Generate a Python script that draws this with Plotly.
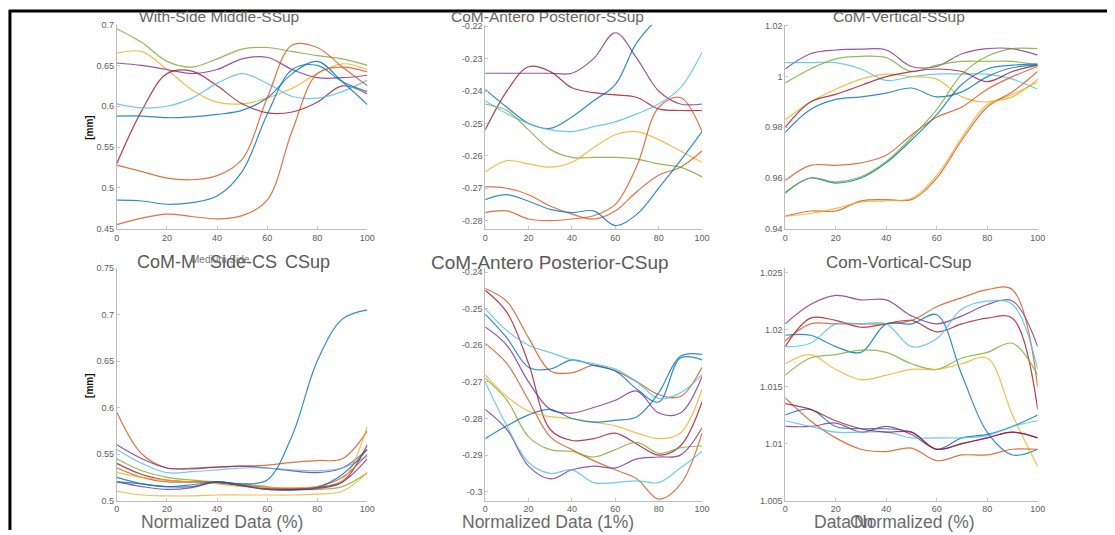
import plotly.graph_objects as go
from plotly.subplots import make_subplots

# ---------------- data ----------------
X_PCT = [0, 10, 20, 30, 40, 50, 60, 70, 80, 90, 100]

# With-Side Middle-SSup
ws_green = [0.695, 0.678, 0.655, 0.648, 0.658, 0.670, 0.672, 0.667, 0.662, 0.658, 0.650]
ws_yellow = [0.665, 0.667, 0.645, 0.620, 0.605, 0.603, 0.610, 0.622, 0.640, 0.652, 0.645]
ws_purple = [0.653, 0.650, 0.645, 0.640, 0.645, 0.658, 0.660, 0.645, 0.635, 0.635, 0.638]
ws_darkred = [0.530, 0.595, 0.640, 0.643, 0.625, 0.603, 0.592, 0.593, 0.605, 0.625, 0.615]
ws_lightblue = [0.603, 0.598, 0.600, 0.610, 0.628, 0.640, 0.628, 0.612, 0.610, 0.618, 0.632]
ws_blue1 = [0.588, 0.588, 0.586, 0.587, 0.590, 0.595, 0.610, 0.640, 0.655, 0.630, 0.602]
ws_blue2 = [0.485, 0.484, 0.480, 0.482, 0.490, 0.520, 0.590, 0.645, 0.650, 0.630, 0.618]
ws_orange1 = [0.528, 0.520, 0.512, 0.510, 0.515, 0.535, 0.610, 0.675, 0.672, 0.648, 0.625]
ws_orange2 = [0.455, 0.463, 0.468, 0.465, 0.462, 0.466, 0.485, 0.570, 0.640, 0.648, 0.642]

# CoM-Antero Posterior-SSup
aps_purple = [-0.2345, -0.2345, -0.2345, -0.2345, -0.2345, -0.2300, -0.2220, -0.2300, -0.2400, -0.2440, -0.2440]
aps_darkred = [-0.2520, -0.2400, -0.2325, -0.2340, -0.2390, -0.2405, -0.2412, -0.2420, -0.2455, -0.2460, -0.2460]
aps_blue1 = [-0.2395, -0.2450, -0.2500, -0.2515, -0.2480, -0.2430, -0.2380, -0.2250, -0.2180, -0.2170, -0.2192]
aps_lightblue = [-0.2430, -0.2470, -0.2500, -0.2520, -0.2525, -0.2510, -0.2495, -0.2470, -0.2440, -0.2390, -0.2280]
aps_green = [-0.2440, -0.2460, -0.2520, -0.2580, -0.2605, -0.2605, -0.2605, -0.2610, -0.2625, -0.2635, -0.2665]
aps_yellow = [-0.2650, -0.2615, -0.2625, -0.2635, -0.2620, -0.2575, -0.2535, -0.2525, -0.2550, -0.2585, -0.2620]
aps_orange1 = [-0.2775, -0.2770, -0.2795, -0.2800, -0.2795, -0.2785, -0.2750, -0.2630, -0.2450, -0.2420, -0.2525]
aps_orange2 = [-0.2695, -0.2700, -0.2720, -0.2755, -0.2780, -0.2795, -0.2770, -0.2710, -0.2660, -0.2635, -0.2585]
aps_blue2 = [-0.2735, -0.2720, -0.2740, -0.2765, -0.2775, -0.2770, -0.2815, -0.2780, -0.2700, -0.2615, -0.2525]

# CoM-Vertical-SSup
vs_purple = [1.0030, 1.0090, 1.0105, 1.0108, 1.0105, 1.0040, 1.0040, 1.0090, 1.0110, 1.0110, 1.0085]
vs_lightblue = [1.0055, 1.0055, 1.0055, 1.0030, 0.9985, 1.0000, 1.0010, 1.0010, 1.0010, 0.9990, 0.9950]
vs_green = [0.9975, 1.0030, 1.0070, 1.0080, 1.0075, 1.0020, 1.0045, 1.0060, 1.0060, 1.0060, 1.0045]
vs_yellow = [0.9830, 0.9900, 0.9950, 0.9990, 1.0010, 1.0000, 0.9990, 0.9920, 0.9900, 0.9930, 0.9980]
vs_darkred = [0.9800, 0.9900, 0.9930, 0.9965, 1.0000, 1.0020, 1.0030, 1.0020, 0.9980, 1.0020, 1.0045]
vs_blue1 = [0.9780, 0.9870, 0.9910, 0.9920, 0.9935, 0.9955, 0.9920, 0.9940, 1.0000, 1.0035, 1.0045]
vs_orange1 = [0.9590, 0.9650, 0.9650, 0.9660, 0.9690, 0.9770, 0.9840, 0.9880, 0.9950, 1.0000, 1.0040]
vs_blue2 = [0.9540, 0.9600, 0.9580, 0.9600, 0.9660, 0.9750, 0.9850, 0.9970, 1.0030, 1.0045, 1.0050]
vs_green2 = [0.9545, 0.9600, 0.9585, 0.9605, 0.9665, 0.9760, 0.9870, 1.0010, 1.0080, 1.0110, 1.0110]
vs_orange2 = [0.9450, 0.9470, 0.9470, 0.9510, 0.9515, 0.9515, 0.9600, 0.9750, 0.9880, 0.9940, 1.0020]
vs_yellow2 = [0.9450, 0.9460, 0.9480, 0.9505, 0.9510, 0.9520, 0.9610, 0.9760, 0.9890, 0.9920, 0.9990]

# CoM-Medium Side-CSup
mc_blue = [0.520, 0.518, 0.515, 0.517, 0.520, 0.518, 0.522, 0.570, 0.650, 0.695, 0.705]
mc_orange = [0.595, 0.550, 0.535, 0.535, 0.536, 0.537, 0.538, 0.541, 0.543, 0.545, 0.575]
mc_purple = [0.560, 0.545, 0.535, 0.534, 0.536, 0.537, 0.535, 0.532, 0.530, 0.535, 0.555]
mc_lightblue = [0.555, 0.540, 0.530, 0.531, 0.533, 0.535, 0.535, 0.533, 0.532, 0.535, 0.548]
mc_green = [0.545, 0.532, 0.525, 0.522, 0.520, 0.518, 0.515, 0.512, 0.512, 0.515, 0.530]
mc_darkred = [0.540, 0.528, 0.522, 0.520, 0.519, 0.516, 0.513, 0.512, 0.513, 0.520, 0.560]
mc_orange2 = [0.535, 0.525, 0.520, 0.520, 0.520, 0.517, 0.514, 0.513, 0.515, 0.525, 0.550]
mc_yellow = [0.530, 0.525, 0.522, 0.520, 0.518, 0.515, 0.514, 0.514, 0.515, 0.522, 0.580]
mc_blue2 = [0.525, 0.518, 0.515, 0.515, 0.520, 0.516, 0.512, 0.511, 0.514, 0.528, 0.555]
mc_purple2 = [0.520, 0.515, 0.512, 0.514, 0.520, 0.516, 0.512, 0.512, 0.514, 0.520, 0.545]
mc_yellow2 = [0.510, 0.506, 0.505, 0.505, 0.506, 0.506, 0.506, 0.506, 0.507, 0.510, 0.530]

# CoM-Antero Posterior-CSup
apc_orange = [-0.2445, -0.2480, -0.2580, -0.2670, -0.2675, -0.2655, -0.2670, -0.2700, -0.2735, -0.2740, -0.2660]
apc_darkred = [-0.2450, -0.2510, -0.2650, -0.2830, -0.2860, -0.2855, -0.2840, -0.2870, -0.2900, -0.2875, -0.2755]
apc_blue = [-0.2515, -0.2580, -0.2660, -0.2665, -0.2640, -0.2655, -0.2670, -0.2720, -0.2755, -0.2635, -0.2640]
apc_lightblue = [-0.2500, -0.2560, -0.2600, -0.2620, -0.2640, -0.2650, -0.2665, -0.2700, -0.2745, -0.2730, -0.2680]
apc_purple = [-0.2550, -0.2600, -0.2700, -0.2775, -0.2785, -0.2770, -0.2750, -0.2725, -0.2785, -0.2785, -0.2685]
apc_orange2 = [-0.2595, -0.2650, -0.2750, -0.2850, -0.2885, -0.2915, -0.2940, -0.2965, -0.3020, -0.2980, -0.2840]
apc_yellow = [-0.2680, -0.2740, -0.2780, -0.2795, -0.2800, -0.2810, -0.2820, -0.2840, -0.2855, -0.2840, -0.2720]
apc_green = [-0.2690, -0.2750, -0.2850, -0.2885, -0.2890, -0.2905, -0.2885, -0.2865, -0.2895, -0.2880, -0.2875]
apc_blue2 = [-0.2855, -0.2820, -0.2790, -0.2775, -0.2800, -0.2810, -0.2805, -0.2795, -0.2730, -0.2630, -0.2625]
apc_purple2 = [-0.2775, -0.2830, -0.2930, -0.2965, -0.2940, -0.2930, -0.2935, -0.2910, -0.2905, -0.2900, -0.2825]
apc_lightblue2 = [-0.2700, -0.2820, -0.2920, -0.2950, -0.2940, -0.2975, -0.2975, -0.2970, -0.2975, -0.2935, -0.2890]

# Com-Vortical-CSup
vc_purple = [1.0205, 1.0222, 1.0230, 1.0226, 1.0226, 1.0212, 1.0205, 1.0212, 1.0222, 1.0225, 1.0185]
vc_darkred = [1.0185, 1.0210, 1.0208, 1.0202, 1.0205, 1.0208, 1.0198, 1.0205, 1.0210, 1.0210, 1.0130]
vc_orange = [1.0190, 1.0205, 1.0205, 1.0205, 1.0205, 1.0208, 1.0220, 1.0228, 1.0235, 1.0235, 1.0150]
vc_blue = [1.0195, 1.0195, 1.0185, 1.0180, 1.0205, 1.0205, 1.0213, 1.0160, 1.0110, 1.0090, 1.0095]
vc_lightblue = [1.0185, 1.0188, 1.0205, 1.0205, 1.0205, 1.0185, 1.0192, 1.0218, 1.0225, 1.0222, 1.0165]
vc_green = [1.0160, 1.0175, 1.0178, 1.0182, 1.0180, 1.0170, 1.0165, 1.0175, 1.0180, 1.0188, 1.0160]
vc_yellow = [1.0170, 1.0178, 1.0165, 1.0156, 1.0160, 1.0165, 1.0165, 1.0170, 1.0175, 1.0125, 1.0080]
vc_orange2 = [1.0140, 1.0120, 1.0105, 1.0095, 1.0093, 1.0096, 1.0085, 1.0090, 1.0090, 1.0095, 1.0095]
vc_blue2 = [1.0125, 1.0130, 1.0115, 1.0113, 1.0113, 1.0110, 1.0095, 1.0105, 1.0108, 1.0115, 1.0125]
vc_purple2 = [1.0115, 1.0115, 1.0118, 1.0110, 1.0115, 1.0108, 1.0095, 1.0100, 1.0105, 1.0110, 1.0105]
vc_lightblue2 = [1.0120, 1.0115, 1.0110, 1.0110, 1.0110, 1.0105, 1.0105, 1.0105, 1.0107, 1.0115, 1.0120]
vc_darkred2 = [1.0135, 1.0130, 1.0120, 1.0113, 1.0110, 1.0110, 1.0095, 1.0100, 1.0105, 1.0110, 1.0105]

# tick labels
x_ticks = [0, 20, 40, 60, 80, 100]
y_ticks_ws = [0.45, 0.5, 0.55, 0.6, 0.65, 0.7]
y_text_ws = ["0.45", "0.5", "0.55", "0.6", "0.65", "0.7"]
y_ticks_aps = [-0.28, -0.27, -0.26, -0.25, -0.24, -0.23, -0.22]
y_text_aps = ["-0.28", "-0.27", "-0.26", "-0.25", "-0.24", "-0.23", "-0.22"]
y_ticks_vs = [0.94, 0.96, 0.98, 1.0, 1.02]
y_text_vs = ["0.94", "0.96", "0.98", "1", "1.02"]
y_ticks_mc = [0.5, 0.55, 0.6, 0.65, 0.7, 0.75]
y_text_mc = ["0.5", "0.55", "0.6", "0.65", "0.7", "0.75"]
y_ticks_apc = [-0.3, -0.29, -0.28, -0.27, -0.26, -0.25, -0.24]
y_text_apc = ["-0.3", "-0.29", "-0.28", "-0.27", "-0.26", "-0.25", "-0.24"]
y_ticks_vc = [1.005, 1.01, 1.015, 1.02, 1.025]
y_text_vc = ["1.005", "1.01", "1.015", "1.02", "1.025"]

# ---------------- styling ----------------
B, O, Y, P, G, LB, R = "#0072BD", "#D95319", "#EDB120", "#7E2F8E", "#77AC30", "#4DBEEE", "#A2142F"

panels = [
    (1, 1, [(ws_green, G), (ws_yellow, Y), (ws_purple, P), (ws_darkred, R), (ws_lightblue, LB),
            (ws_blue1, B), (ws_blue2, B), (ws_orange1, O), (ws_orange2, O)]),
    (1, 2, [(aps_purple, P), (aps_darkred, R), (aps_blue1, B), (aps_lightblue, LB), (aps_green, G),
            (aps_yellow, Y), (aps_orange1, O), (aps_orange2, O), (aps_blue2, B)]),
    (1, 3, [(vs_purple, P), (vs_lightblue, LB), (vs_green, G), (vs_yellow, Y), (vs_darkred, R),
            (vs_blue1, B), (vs_orange1, O), (vs_blue2, B), (vs_green2, G), (vs_orange2, O), (vs_yellow2, Y)]),
    (2, 1, [(mc_orange, O), (mc_purple, P), (mc_lightblue, LB), (mc_green, G), (mc_darkred, R),
            (mc_orange2, O), (mc_yellow, Y), (mc_blue2, B), (mc_purple2, P), (mc_yellow2, Y), (mc_blue, B)]),
    (2, 2, [(apc_orange, O), (apc_darkred, R), (apc_blue, B), (apc_lightblue, LB), (apc_purple, P),
            (apc_orange2, O), (apc_yellow, Y), (apc_green, G), (apc_blue2, B), (apc_purple2, P),
            (apc_lightblue2, LB)]),
    (2, 3, [(vc_purple, P), (vc_darkred, R), (vc_orange, O), (vc_blue, B), (vc_lightblue, LB),
            (vc_green, G), (vc_yellow, Y), (vc_orange2, O), (vc_blue2, B), (vc_purple2, P),
            (vc_lightblue2, LB), (vc_darkred2, R)]),
]

W, H = 1115, 535
fig = make_subplots(rows=2, cols=3)

for r, c, series in panels:
    for vals, col in series:
        fig.add_trace(go.Scatter(x=X_PCT, y=vals, mode="lines", line=dict(color=col, width=1.2, shape="spline"),
                                 opacity=0.8, showlegend=False, hoverinfo="skip"), row=r, col=c)

col_px = [(115, 368), (487, 706), (790, 1045)]
row_px = [(20, 228), (268, 505)]
yranges = {
    (1, 1): ([0.45, 0.70], y_ticks_ws, y_text_ws),
    (1, 2): ([-0.2825, -0.2195], y_ticks_aps, y_text_aps),
    (1, 3): ([0.94, 1.0205], y_ticks_vs, y_text_vs),
    (2, 1): ([0.50, 0.75], y_ticks_mc, y_text_mc),
    (2, 2): ([-0.3024, -0.2389], y_ticks_apc, y_text_apc),
    (2, 3): ([1.005, 1.0254], y_ticks_vc, y_text_vc),
}
tickfont = dict(family="Liberation Sans, Arial, sans-serif", size=9, color="#606060")
for (r, c), (yr, tv, tt) in yranges.items():
    idx = (r - 1) * 3 + c
    xn = "xaxis" if idx == 1 else f"xaxis{idx}"
    yn = "yaxis" if idx == 1 else f"yaxis{idx}"
    x0, x1 = col_px[c - 1]
    t0, t1 = row_px[r - 1]
    fig.layout[xn].update(domain=[x0 / W, x1 / W], range=[0, 100], tickvals=x_ticks,
                          showline=True, linecolor="#bdbdbd", linewidth=1, showgrid=False, zeroline=False,
                          ticks="inside", ticklen=3, tickcolor="#c8c8c8", tickfont=tickfont)
    fig.layout[yn].update(domain=[1 - t1 / H, 1 - t0 / H], range=yr, tickvals=tv, ticktext=tt,
                          showline=True, linecolor="#bdbdbd", linewidth=1, showgrid=False, zeroline=False,
                          ticks="inside", ticklen=3, tickcolor="#c8c8c8", tickfont=tickfont)

ann = []
def add_text(text, px, py, size, family, color="#5a5a5a", xanchor="center", angle=0, bold=False):
    ann.append(dict(text=("<b>%s</b>" % text) if bold else text, x=px / W, y=1 - py / H, xref="paper", yref="paper",
                    showarrow=False, xanchor=xanchor, yanchor="middle", textangle=angle,
                    font=dict(size=size, family=family, color=color)))

NARROW = "Liberation Sans Narrow, Arial Narrow, sans-serif"
SANS = "Liberation Sans, Arial, sans-serif"
# top row titles
add_text("With-Side Middle-SSup", 218, 12, 15.5, SANS, color="#666666")
add_text("CoM-Antero Posterior-SSup", 550, 12, 15.5, SANS, color="#666666")
add_text("CoM-Vertical-SSup", 905, 12, 15.5, SANS, color="#666666")
# bottom row titles
add_text("CoM-M", 133, 262, 18, NARROW, xanchor="left")
add_text("Side-CS", 243, 262, 18, NARROW)
add_text("Medium Side", 220, 259, 10, NARROW, color="#777777")
add_text("CSup", 283, 262, 18, NARROW, xanchor="left")
add_text("CoM-Antero Posterior-CSup", 552, 262, 19, NARROW)
add_text("Com-Vortical-CSup", 905, 262, 17, NARROW)
# x labels
add_text("Normalized Data (%)", 221, 527, 17.5, NARROW, color="#6a6a6a")
add_text("Normalized Data (1%)", 550, 527, 17.5, NARROW, color="#6a6a6a")
add_text("Data", 858, 527, 17.5, NARROW, color="#6a6a6a", xanchor="right")
add_text("On", 853, 527, 17.5, NARROW, color="#6a6a6a", xanchor="left")
add_text("Normalized (%)", 857, 527, 17.5, NARROW, color="#6a6a6a", xanchor="left")
# y labels
add_text("[mm]", 88, 125, 10, SANS, color="#111111", angle=-90, bold=True)
add_text("[mm]", 88, 388, 10, SANS, color="#111111", angle=-90, bold=True)

shapes = [
    dict(type="line", xref="paper", yref="paper", x0=6 / W, x1=1, y0=1 - 6 / H, y1=1 - 6 / H,
         line=dict(color="black", width=3)),
    dict(type="line", xref="paper", yref="paper", x0=7 / W, x1=7 / W, y0=0, y1=1 - 5 / H,
         line=dict(color="black", width=3)),
]

fig.update_layout(width=W, height=H, margin=dict(l=0, r=0, t=0, b=0), paper_bgcolor="white",
                  plot_bgcolor="white", annotations=ann, shapes=shapes, showlegend=False)
fig.write_html("out.html", config={"displayModeBar": False},
               post_script="document.body.style.margin='0';document.body.style.overflow='hidden';")
